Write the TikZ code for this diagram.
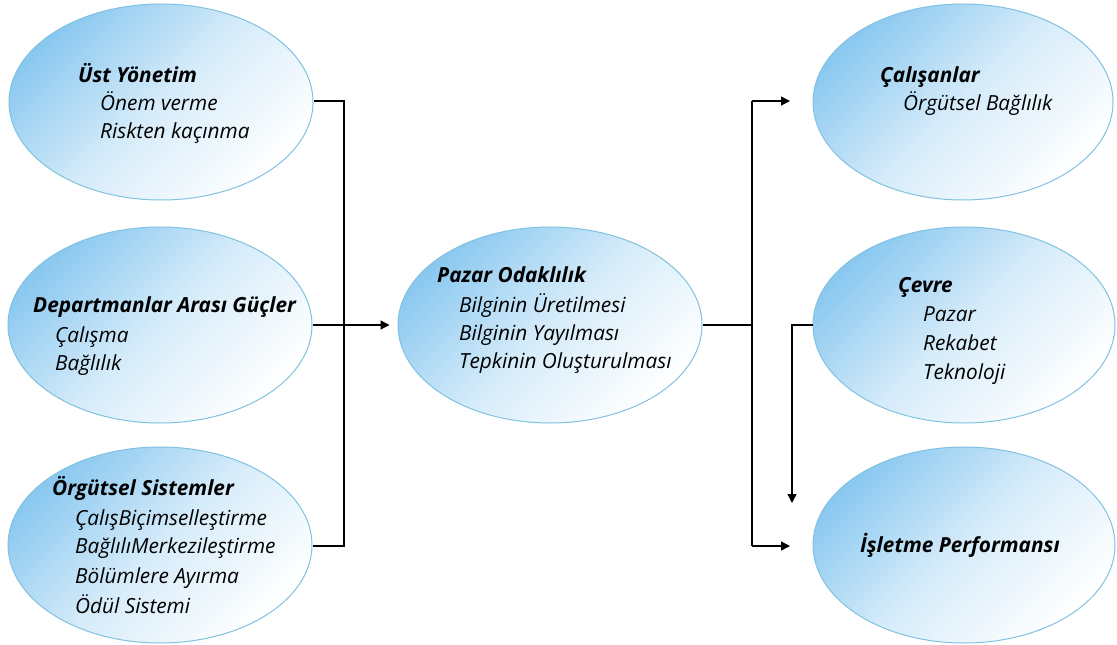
\documentclass[tikz,border=0pt]{standalone}
\usepackage{fontspec}
\setmainfont{Open Sans}
\usetikzlibrary{shapes.geometric,arrows.meta}
\definecolor{bubble}{RGB}{138,200,240}
\definecolor{rim}{RGB}{128,194,224}
\tikzset{
  bubble/.style={ellipse, draw=rim, line width=1pt, inner sep=0pt,
    minimum width=304pt, minimum height=196pt,
    top color=bubble, bottom color=white, middle color=bubble!35!white,
    shading angle=45},
  head/.style={anchor=base west, inner sep=0pt, font=\fontsize{20.8}{24}\selectfont\itshape\bfseries},
  item/.style={anchor=base west, inner sep=0pt, font=\fontsize{20.8}{24}\selectfont\itshape},
  wire/.style={line width=1.3pt, black},
  arr/.style={wire, -{Triangle[length=9pt,width=9pt]}}
}
\begin{document}
\begin{tikzpicture}[x=1pt,y=-1pt]
\useasboundingbox (0,0) rectangle (1117,645);

% ellipses
\node[bubble] (top) at (161,102) {};
\node[bubble] (dep) at (160,325) {};
\node[bubble] (org) at (160,545) {};
\node[bubble] (pz)  at (550,325) {};
\node[bubble, minimum width=300pt] (cal) at (963,102) {};
\node[bubble, minimum width=302pt] (cv)  at (964,325) {};
\node[bubble, minimum width=302pt] (per) at (964,545) {};

% texts
\node[head] (t1) at (78,82) {Üst Yönetim};
\node[item] (t1a) at (100,110) {Önem verme};
\node[item] (t1b) at (100,138) {Riskten kaçınma};

\node[head] (t2) at (33,312) {Departmanlar Arası Güçler};
\node[item] (t2a) at (55,342) {Çalışma};
\node[item] (t2b) at (55,370) {Bağlılık};

\node[head] (t3) at (52,495) {Örgütsel Sistemler};
\node[item] (t3a) at (75,525) {ÇalışBiçimselleştirme};
\node[item] (t3b) at (75,553) {BağlılıMerkezileştirme};
\node[item] (t3c) at (75,583) {Bölümlere Ayırma};
\node[item] (t3d) at (75,613) {Ödül Sistemi};

\node[head] (t4) at (437,282) {Pazar Odaklılık};
\node[item] (t4a) at (459,312) {Bilginin Üretilmesi};
\node[item] (t4b) at (459,340) {Bilginin Yayılması};
\node[item] (t4c) at (459,368) {Tepkinin Oluşturulması};

\node[head] (t5) at (880,82) {Çalışanlar};
\node[item] (t5a) at (903,110) {Örgütsel Bağlılık};

\node[head] (t6) at (898,292) {Çevre};
\node[item] (t6a) at (923,321) {Pazar};
\node[item] (t6b) at (923,350) {Rekabet};
\node[item] (t6c) at (923,379) {Teknoloji};

\node[head] (t7) at (860,552) {İşletme Performansı};

% connector junctions and arrow ends
\coordinate (lb1) at (344,101);
\coordinate (lb3) at (344,546);
\coordinate (rb1) at (752,101);
\coordinate (rbm) at (752,325);
\coordinate (rb3) at (752,546);
\coordinate (to1) at (790,101);
\coordinate (to3) at (790,546);
\coordinate (cvd) at (792,503);

% left bus into market orientation
\draw[wire] (top.east |- lb1) -- (lb1) -- (lb3) -- (org.east |- lb3);
\draw[arr, shorten >=8pt] (dep.east) -- (pz.west);

% right bus out of market orientation
\draw[wire] (pz.east) -- (rbm);
\draw[wire] (rb1) -- (rb3);
\draw[arr] (rb1) -- (to1);
\draw[arr] (rb3) -- (to3);

% environment feeding performance
\draw[arr] (cv.west) -| (cvd);
\end{tikzpicture}
\end{document}
